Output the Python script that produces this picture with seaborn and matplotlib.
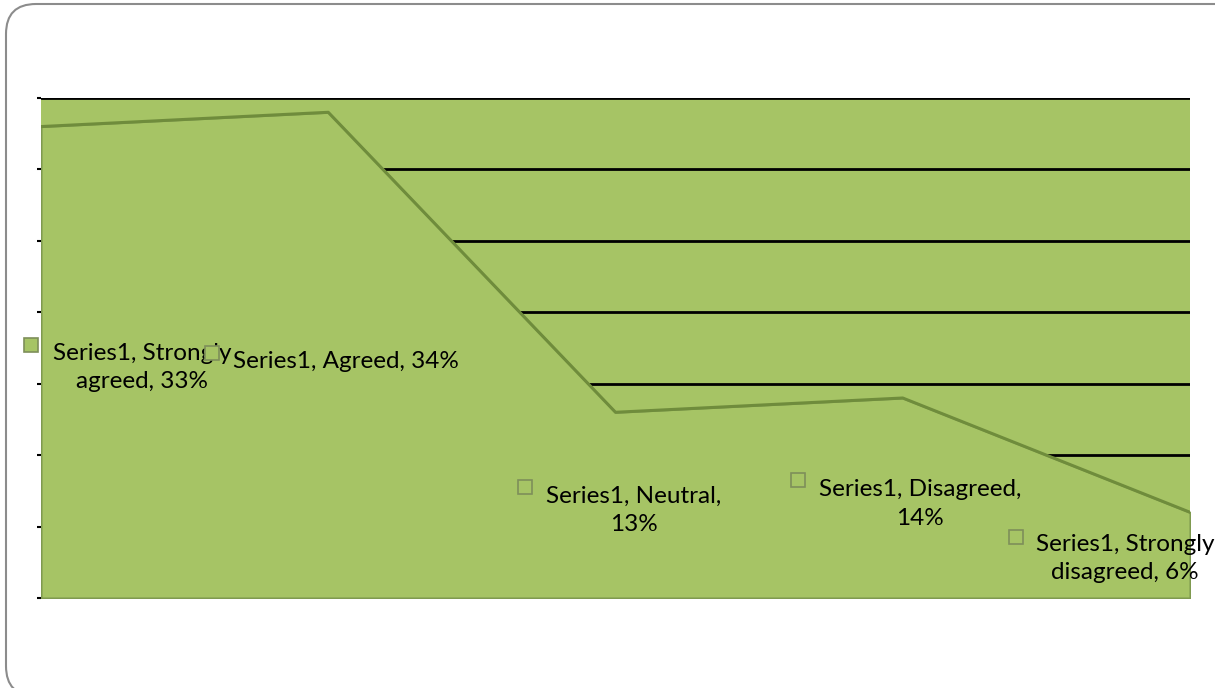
import matplotlib
matplotlib.use("Agg")
import matplotlib.pyplot as plt
import matplotlib.transforms as mtrans
from matplotlib.patches import FancyBboxPatch
import seaborn as sns
import pandas as pd

# ---- data ----
categories = ["Strongly agreed", "Agreed", "Neutral", "Disagreed", "Strongly disagreed"]
values = [33, 34, 13, 14, 6]
label_texts = ["Series1, Strongly\nagreed, 33%",
               "Series1, Agreed, 34%",
               "Series1, Neutral,\n13%",
               "Series1, Disagreed,\n14%",
               "Series1, Strongly\ndisagreed, 6%"]
yticks = [0, 5, 10, 15, 20, 25, 30, 35]

# ---- style ----
sns.set_style("white")
plt.rcParams["font.family"] = ["Lato", "DejaVu Sans"]

FILL = "#A6C465"
EDGE = "#6F8C3C"

df = pd.DataFrame({"pos": range(len(categories)), "value": values, "category": categories})

W, H, DPI = 1215, 688, 100
fig = plt.figure(figsize=(W / DPI, H / DPI), dpi=DPI)
ax = fig.add_axes([41 / W, 1 - 598 / H, (1190 - 41) / W, (598 - 98) / H])
ax.set_facecolor(FILL)

ax.set_xlim(0, len(categories) - 1)
ax.set_ylim(0, 35)
ax.set_yticks(yticks)
ax.set_yticklabels([])
ax.set_xticks([])
ax.yaxis.grid(True, color="black", linewidth=2)
ax.set_axisbelow(True)
ax.tick_params(axis="y", length=3, width=1.5, color="black", left=True)
for s in ax.spines.values():
    s.set_visible(False)

ax.fill_between(df["pos"], df["value"], 0, facecolor=FILL, edgecolor="#7F9A50",
                linewidth=1.5, zorder=2)
sns.lineplot(data=df, x="pos", y="value", color=EDGE, linewidth=2.2, ax=ax, zorder=3)
ax.set_xlabel("")
ax.set_ylabel("")

# label offsets (pixels) relative to each data point: text centre, marker centre
text_off = [(101, -241), (18, -249), (18, -98), (17, -106), (-65, -46)]
mark_off = [(-10, -218), (-116, -241), (-91, -75), (-105, -82), (-174, -25)]

for i, (p, v) in enumerate(zip(df["pos"], df["value"])):
    tdx, tdy = text_off[i]
    mdx, mdy = mark_off[i]
    ax.annotate(label_texts[i], xy=(p, v), xytext=(tdx * 0.72, tdy * 0.72),
                textcoords="offset points", ha="center", va="center",
                fontsize=17.5, color="black", linespacing=1.42,
                annotation_clip=False, zorder=5)
    tr = ax.transData + mtrans.ScaledTranslation(mdx / DPI, mdy / DPI, fig.dpi_scale_trans)
    ax.plot([p], [v], marker="s", markersize=10, markerfacecolor=FILL,
            markeredgecolor="#7E8F5A", markeredgewidth=1.2, transform=tr,
            clip_on=False, zorder=6)

# rounded chart border (pixel coordinates mapped to figure)
pix = mtrans.Affine2D().scale(1 / W, 1 / H) + fig.transFigure
border = FancyBboxPatch((6, -8), 1240, 692, boxstyle="round,pad=0,rounding_size=30",
                        transform=pix, facecolor="none", edgecolor="#8C8C8C",
                        linewidth=1.5)
fig.patches.append(border)

fig.savefig("out.png", dpi=DPI)
